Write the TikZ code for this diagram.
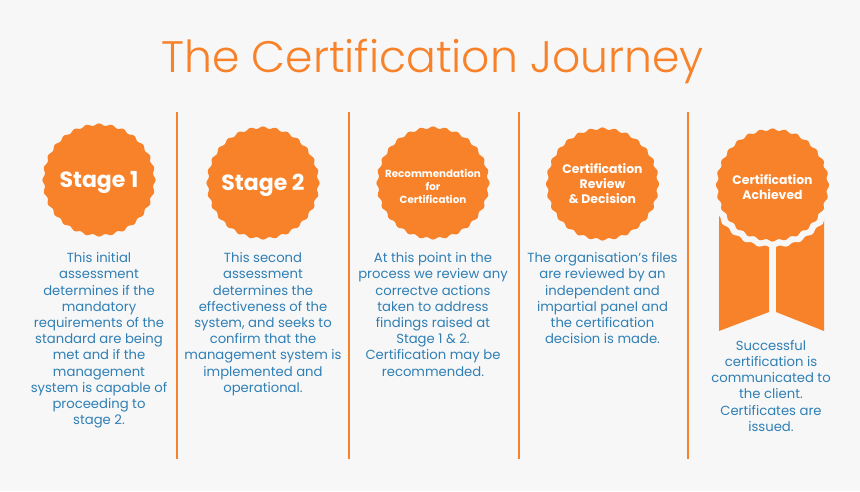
\documentclass[tikz,border=0pt]{standalone}
\usepackage{fontspec}
\setmainfont{Poppins}
\newfontfamily\titlefont[UprightFont=* Light]{Poppins}
\definecolor{bgc}{HTML}{F7F7F7}
\definecolor{org}{HTML}{F8822A}
\definecolor{txb}{HTML}{2F7FB5}
\tikzset{
  x=1pt,y=-1pt,
  body/.style={text=txb,align=center,font=\fontsize{13.2}{16.2}\selectfont,anchor=north,inner sep=0pt},
  badge/.style={text=white,align=center,inner sep=0pt},
  sep/.style={draw=org,line width=2pt},
}
\newcommand{\scallop}[4]{% x y radius colour
  \fill[#4] plot[domain=0:360,samples=217,smooth] ({#1+(#3+1.1*cos(28*\x))*cos(\x)},{#2+(#3+1.1*cos(28*\x))*sin(\x)}) -- cycle;}
\begin{document}
\begin{tikzpicture}
\useasboundingbox[fill=bgc] (0,0) rectangle (860,491);
\node[text=org,font=\titlefont\fontsize{44.1}{50}\selectfont,inner sep=0pt] (title) at (432.5,61) {The Certification Journey};
% separators
\foreach \n/\px in {a/177,b/349,c/519,d/688}{
  \coordinate (\n t) at (\px,112);
  \coordinate (\n b) at (\px,459);
  \draw[sep] (\n t) -- (\n b);
}
% ribbon
\fill[org] (719,213) -- (769,240) -- (769,312) -- (719,331) -- cycle;
\fill[org] (824,213) -- (776,240) -- (776,312) -- (824,331) -- cycle;
\scallop{772.5}{184}{63}{bgc}
% badges
\scallop{99}{180}{55.5}{org}
\scallop{263}{183}{55.5}{org}
\scallop{433}{183}{55.5}{org}
\scallop{602.5}{184}{55.5}{org}
\scallop{772.5}{185}{55.5}{org}
\node[badge,font=\bfseries\fontsize{22}{26}\selectfont] (s1) at (99,182) {Stage 1};
\node[badge,font=\bfseries\fontsize{22}{26}\selectfont] (s2) at (263,185) {Stage 2};
\node[badge,font=\bfseries\fontsize{10.3}{13}\selectfont] (s3) at (433,186) {Recommendation\\for\\Certification};
\node[badge,font=\bfseries\fontsize{12.4}{15}\selectfont] (s4) at (602.5,184) {Certification\\Review\\\& Decision};
\node[badge,font=\bfseries\fontsize{12.4}{15}\selectfont] (s5) at (772.5,187) {Certification\\Achieved};
% text
\node[body] (t1) at (99,252.5) {This initial\\assessment\\determines if the\\mandatory\\requirements of the\\standard are being\\met and if the\\management\\system is capable of\\proceeding to\\stage 2.};
\node[body] (t2) at (263,252.5) {This second\\assessment\\determines the\\effectiveness of the\\system, and seeks to\\confirm that the\\management system is\\implemented and\\operational.};
\node[body] (t3) at (433,252.5) {At this point in the\\process we review any\\correctve actions\\taken to address\\findings raised at\\Stage 1 \& 2.\\Certification may be\\recommended.};
\node[body] (t4) at (602.5,252.5) {The organisation’s files\\are reviewed by an\\independent and\\impartial panel and\\the certification\\decision is made.};
\node[body] (t5) at (771,340) {Successful\\certification is\\communicated to\\the client.\\Certificates are\\issued.};
\end{tikzpicture}
\end{document}
